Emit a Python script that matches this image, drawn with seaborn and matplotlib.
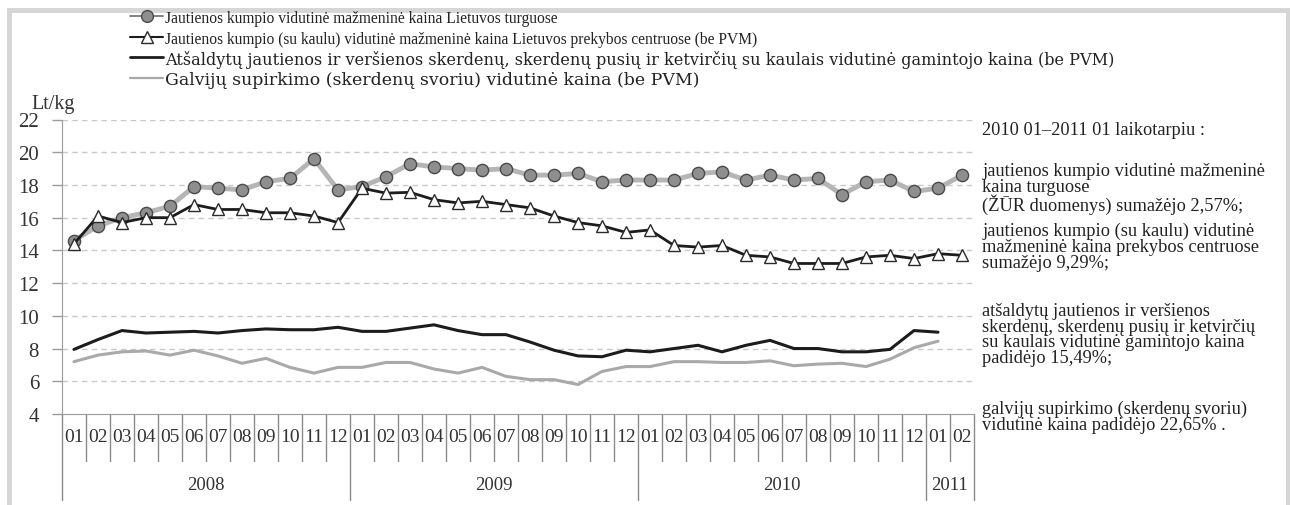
import numpy as np
import pandas as pd
import matplotlib
matplotlib.use('Agg')
import matplotlib.pyplot as plt
import matplotlib.transforms as mtransforms
from matplotlib.patches import Rectangle
from matplotlib.lines import Line2D
import seaborn as sns

# month labels and years (2008-01 .. 2011-02)
months = ['01', '02', '03', '04', '05', '06', '07', '08', '09', '10', '11', '12'] * 3 + ['01', '02']
years = ['2008', '2009', '2010', '2011']
year_len = [12, 12, 12, 2]

# Jautienos kumpio vidutine mazmenine kaina Lietuvos turguose
market = [14.6, 15.5, 16.0, 16.3, 16.7, 17.9, 17.8, 17.7, 18.2, 18.4, 19.6, 17.7,
          17.9, 18.5, 19.3, 19.1, 19.0, 18.9, 19.0, 18.6, 18.6, 18.7, 18.2, 18.3,
          18.3, 18.3, 18.7, 18.8, 18.3, 18.6, 18.3, 18.4, 17.4, 18.2, 18.3, 17.6,
          17.8, 18.6]
# Jautienos kumpio (su kaulu) ... prekybos centruose
shops = [14.4, 16.1, 15.7, 16.0, 16.0, 16.8, 16.5, 16.5, 16.3, 16.3, 16.1, 15.7,
         17.8, 17.5, 17.55, 17.1, 16.9, 17.0, 16.8, 16.6, 16.1, 15.7, 15.5, 15.1,
         15.25, 14.3, 14.2, 14.3, 13.7, 13.6, 13.2, 13.2, 13.2, 13.6, 13.7, 13.5,
         13.8, 13.7]
# Atsaldytu jautienos ir versienos skerdenu ... gamintojo kaina
producer = [7.95, 8.55, 9.1, 8.95, 9.0, 9.05, 8.95, 9.1, 9.2, 9.15, 9.15, 9.3,
            9.05, 9.05, 9.25, 9.45, 9.1, 8.85, 8.85, 8.4, 7.9, 7.55, 7.5, 7.9,
            7.8, 8.0, 8.2, 7.8, 8.2, 8.5, 8.0, 8.0, 7.8, 7.8, 7.95, 9.1,
            9.0, np.nan]
# Galviju supirkimo (skerdenu svoriu) vidutine kaina
purchase = [7.2, 7.6, 7.8, 7.85, 7.6, 7.9, 7.55, 7.1, 7.4, 6.85, 6.5, 6.85,
            6.85, 7.15, 7.15, 6.75, 6.5, 6.85, 6.3, 6.1, 6.1, 5.8, 6.6, 6.9,
            6.9, 7.2, 7.2, 7.15, 7.15, 7.25, 6.95, 7.05, 7.1, 6.9, 7.35, 8.05,
            8.45, np.nan]

labels = [
    'Jautienos kumpio vidutinė mažmeninė kaina Lietuvos turguose',
    'Jautienos kumpio (su kaulu) vidutinė mažmeninė kaina Lietuvos prekybos centruose (be PVM)',
    'Atšaldytų jautienos ir veršienos skerdenų, skerdenų pusių ir ketvirčių su kaulais vidutinė gamintojo kaina (be PVM)',
    'Galvijų supirkimo (skerdenų svoriu) vidutinė kaina (be PVM)',
]

df = pd.DataFrame({'pos': np.arange(len(months)), 'market': market, 'shops': shops,
                   'producer': producer, 'purchase': purchase})

sns.set_style('white')
plt.rcParams['font.family'] = ['Liberation Serif', 'DejaVu Serif']

W, H = 1290, 506
fig = plt.figure(figsize=(12.9, 5.06), dpi=100)
ax = fig.add_axes([62 / W, 1 - 415 / H, (974 - 62) / W, (415 - 120.5) / H])

# outer frame
fig.patches.append(Rectangle((8.5 / W, -0.1), (1287.5 - 8.5) / W, 1.1 - 10.5 / H,
                             transform=fig.transFigure, fill=False,
                             edgecolor='#d6d6d6', linewidth=3.6, zorder=0))

styles = {
    'market': dict(color='#b5b5b5', lw=3.5, marker='o', markersize=8.8,
                   markerfacecolor='#8f8f8f', markeredgecolor='#4a4a4a',
                   markeredgewidth=1.0),
    'shops': dict(color='#1c1c1c', lw=2.0, marker='^', markersize=8,
                  markerfacecolor='white', markeredgecolor='#2a2a2a',
                  markeredgewidth=1.0),
    'producer': dict(color='#1c1c1c', lw=2.2),
    'purchase': dict(color='#a9a9a9', lw=2.2),
}
zorders = {'producer': 3, 'purchase': 3, 'market': 4, 'shops': 5}
for col in ['producer', 'purchase', 'market', 'shops']:
    sns.lineplot(data=df, x='pos', y=col, ax=ax, errorbar=None,
                 zorder=zorders[col], **styles[col])

ax.set_xlim(-0.5, len(months) - 0.5)
ax.set_ylim(4, 22)
ax.set_yticks(range(4, 23, 2))
ax.set_xticks([])
ax.set_xlabel('')
ax.set_ylabel('')
for y in range(6, 23, 2):
    ax.axhline(y, color='#c9c9c9', lw=1.0, ls=(0, (4, 3)), zorder=1)
for s in ['top', 'right']:
    ax.spines[s].set_visible(False)
ax.spines['left'].set_color('#9a9a9a')
ax.spines['bottom'].set_color('#9a9a9a')
ax.tick_params(axis='y', length=7, width=1, color='#9a9a9a', pad=9.5,
               labelsize=15, labelcolor='#333333', direction='out', left=True)
fig.text(31 / W, 1 - 104 / H, 'Lt/kg', fontsize=14.5, color='#333333',
         ha='left', va='center')

# category table under the axis
tr = mtransforms.blended_transform_factory(ax.transData, ax.transAxes)
n = len(months)
year_starts = np.cumsum([0] + year_len)
for i in range(n + 1):
    bottom = -0.292 if i in year_starts else -0.16
    ax.plot([i - 0.5, i - 0.5], [0, bottom], transform=tr, color='#8a8a8a',
            lw=1.0, clip_on=False)
for i, m in enumerate(months):
    ax.text(i, -0.075, m, transform=tr, ha='center', va='center', fontsize=14,
            color='#333333')
for k, yr in enumerate(years):
    mid = (year_starts[k] + year_starts[k + 1] - 1) / 2
    ax.text(mid, -0.24, yr, transform=tr, ha='center', va='center', fontsize=13.5,
            color='#333333')

# legend rows on top (drawn by hand so each row keeps its own size)
leg_rows = [
    (17, labels[0], dict(color='#7a7a7a', lw=1.3, marker='o', markersize=8.5,
                         markerfacecolor='#8f8f8f', markeredgecolor='#4a4a4a')),
    (37.5, labels[1], dict(color='#1c1c1c', lw=1.5, marker='^', markersize=8,
                           markerfacecolor='white', markeredgecolor='#2a2a2a')),
    (58, labels[2], dict(color='#1c1c1c', lw=2.0)),
    (78.5, labels[3], dict(color='#a9a9a9', lw=1.6)),
]
leg_fonts = [(['Liberation Serif'], 11.2), (['Liberation Serif'], 11.2),
             (['DejaVu Serif'], 11.6), (['DejaVu Serif'], 12.5)]
for (ypx, lab, st), (fam, fs) in zip(leg_rows, leg_fonts):
    yy = 1 - ypx / H
    fig.add_artist(Line2D([130 / W, 146.5 / W, 163 / W], [yy, yy, yy],
                          transform=fig.transFigure, markevery=[1], **st))
    fig.text(165 / W, yy, lab, family=fam, fontsize=fs, color='#222222',
             ha='left', va='center_baseline')

# note on the right
notes = [
    (131, '2010 01–2011 01 laikotarpiu :'),
    (172, 'jautienos kumpio vidutinė mažmeninė\nkaina turguose\n(ŽŪR duomenys) sumažėjo 2,57%;'),
    (232, 'jautienos kumpio (su kaulu) vidutinė\nmažmeninė kaina prekybos centruose\nsumažėjo 9,29%;'),
    (312, 'atšaldytų jautienos ir veršienos\nskerdenų, skerdenų pusių ir ketvirčių\nsu kaulais vidutinė gamintojo kaina\npadidėjo 15,49%;'),
    (410, 'galvijų supirkimo (skerdenų svoriu)\nvidutinė kaina padidėjo 22,65% .'),
]
for ypx, txt in notes:
    fig.text(982 / W, 1 - (ypx - 9) / H, txt, ha='left', va='top', fontsize=13.2,
             color='#222222', linespacing=0.9)

fig.savefig('out.png', dpi=100)
